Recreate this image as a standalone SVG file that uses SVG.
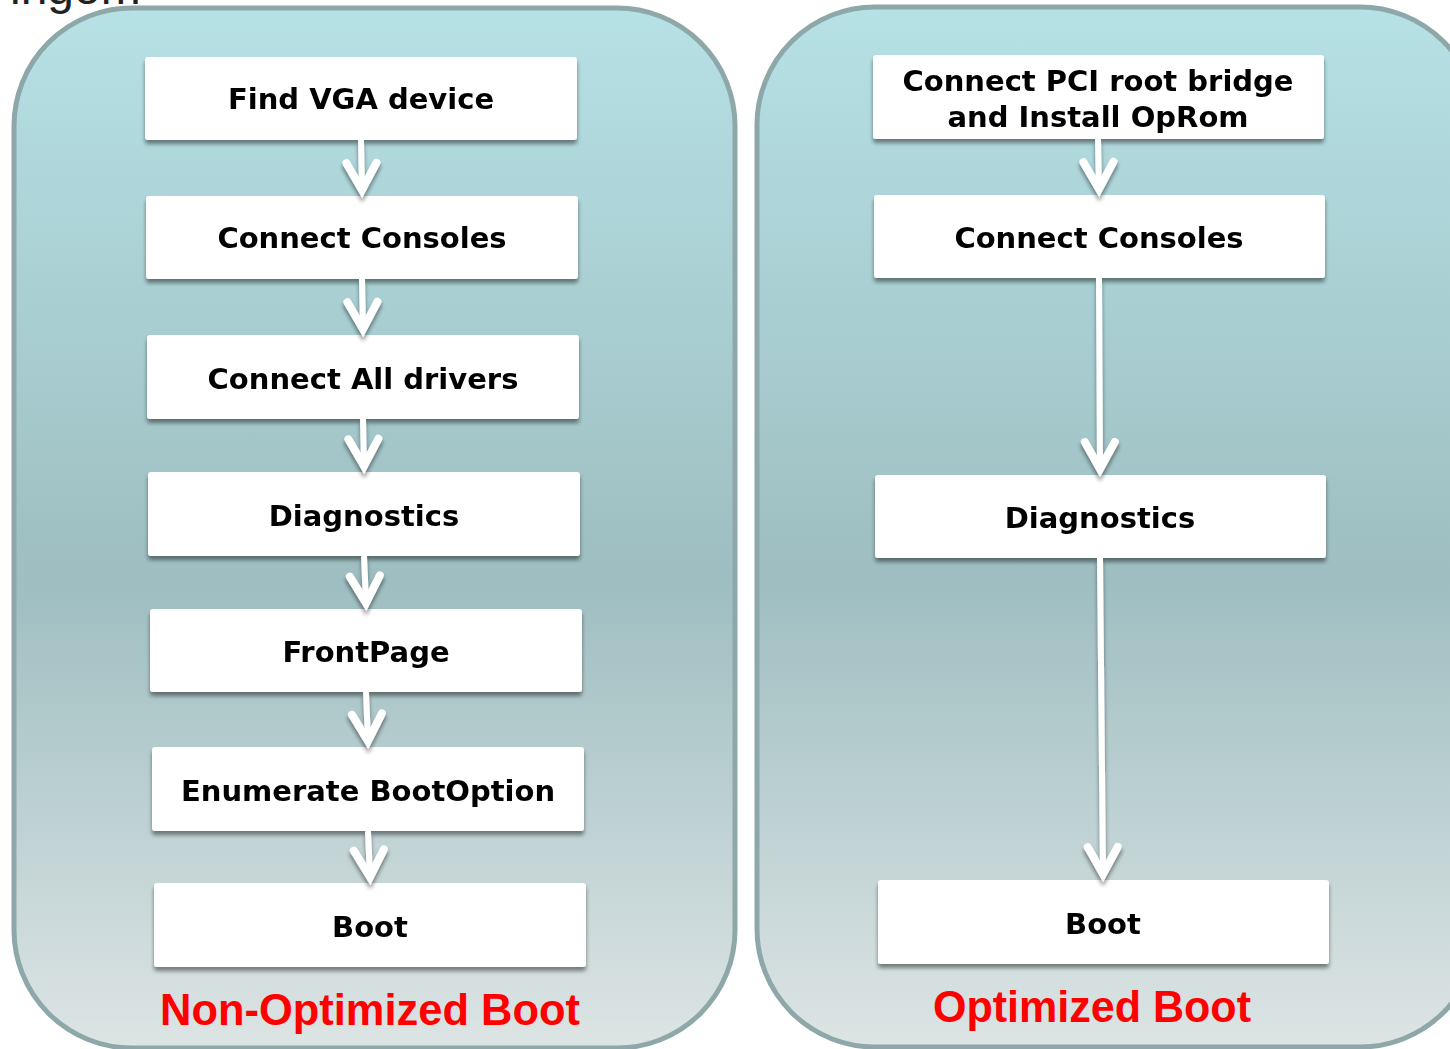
<svg xmlns="http://www.w3.org/2000/svg" width="1450" height="1049" viewBox="0 0 1450 1049">
  <defs>
    <linearGradient id="panelFill" x1="0" y1="0" x2="0" y2="1">
      <stop offset="0" stop-color="#b6e1e5"/>
      <stop offset="0.55" stop-color="#9ebec1"/>
      <stop offset="1" stop-color="#dde4e4"/>
    </linearGradient>
    <filter id="shadow" x="-5%" y="-20%" width="110%" height="150%">
      <feGaussianBlur in="SourceAlpha" stdDeviation="2.2"/>
      <feOffset dx="0" dy="3.5" result="blur"/>
      <feComponentTransfer><feFuncA type="linear" slope="0.45"/></feComponentTransfer>
      <feMerge><feMergeNode/><feMergeNode in="SourceGraphic"/></feMerge>
    </filter>
    <marker id="vhead" markerUnits="userSpaceOnUse" markerWidth="44" markerHeight="44" refX="30" refY="22" orient="auto" overflow="visible">
      <path d="M 3,7 L 30,22 L 3,37" fill="none" stroke="#ffffff" stroke-width="8" stroke-linecap="round" stroke-linejoin="miter"/>
    </marker>
    <style>
      .panel { fill: url(#panelFill); stroke: #8ea8aa; stroke-width: 5; }
      .box { fill: #ffffff; }
      .label { font-family: "DejaVu Sans", Verdana, sans-serif; font-weight: bold; font-size: 29px; fill: #000000; text-anchor: middle; }
      .title { font-family: "Liberation Sans", Arial, sans-serif; font-weight: bold; font-size: 44px; fill: #ff0000; text-anchor: middle; }
      .edge { fill: none; stroke: #ffffff; stroke-width: 6; marker-end: url(#vhead); }
      .heading { font-family: "Liberation Sans", Arial, sans-serif; font-size: 48px; fill: #222222; }
    </style>
  </defs>

  <rect width="1450" height="1049" fill="#ffffff"/>

  <!-- heading text running off the top edge -->
  <text class="heading" x="10" y="4">ingom</text>

  <!-- the two flow panels -->
  <g id="panel-non-optimized">
    <rect class="panel" x="14" y="8" width="721" height="1040" rx="118" ry="118"/>
    <text class="title" x="370" y="1025" textLength="420" lengthAdjust="spacingAndGlyphs">Non-Optimized Boot</text>
  </g>
  <g id="panel-optimized">
    <rect class="panel" x="757" y="7" width="721" height="1040" rx="118" ry="118"/>
    <text class="title" x="1092" y="1022" textLength="318" lengthAdjust="spacingAndGlyphs">Optimized Boot</text>
  </g>

  <!-- non-optimized boot steps -->
  <g filter="url(#shadow)">
    <g id="n-find-vga"><rect class="box" x="145" y="57" width="432" height="83" rx="3"/><text class="label" x="361" y="109">Find VGA device</text></g>
    <g id="n-connect-consoles"><rect class="box" x="146" y="196" width="432" height="83" rx="3"/><text class="label" x="362" y="248">Connect Consoles</text></g>
    <g id="n-connect-all"><rect class="box" x="147" y="335" width="432" height="84" rx="3"/><text class="label" x="363" y="389">Connect All drivers</text></g>
    <g id="n-diagnostics"><rect class="box" x="148" y="472" width="432" height="84" rx="3"/><text class="label" x="364" y="526">Diagnostics</text></g>
    <g id="n-frontpage"><rect class="box" x="150" y="609" width="432" height="83" rx="3"/><text class="label" x="366" y="662">FrontPage</text></g>
    <g id="n-enumerate"><rect class="box" x="152" y="747" width="432" height="84" rx="3"/><text class="label" x="368" y="801">Enumerate BootOption</text></g>
    <g id="n-boot"><rect class="box" x="154" y="883" width="432" height="84" rx="3"/><text class="label" x="370" y="937">Boot</text></g>
  </g>

  <!-- optimized boot steps -->
  <g filter="url(#shadow)">
    <g id="o-connect-pci"><rect class="box" x="873" y="55" width="451" height="84" rx="3"/><text class="label" x="1098" y="91">Connect PCI root bridge</text><text class="label" x="1098" y="127">and Install OpRom</text></g>
    <g id="o-connect-consoles"><rect class="box" x="874" y="195" width="451" height="83" rx="3"/><text class="label" x="1099" y="248">Connect Consoles</text></g>
    <g id="o-diagnostics"><rect class="box" x="875" y="475" width="451" height="83" rx="3"/><text class="label" x="1100" y="528">Diagnostics</text></g>
    <g id="o-boot"><rect class="box" x="878" y="880" width="451" height="84" rx="3"/><text class="label" x="1103" y="934">Boot</text></g>
  </g>

  <!-- connectors -->
  <g id="connectors" filter="url(#shadow)">
    <line class="edge" x1="361" y1="140" x2="362" y2="190"/>
    <line class="edge" x1="362" y1="279" x2="363" y2="329"/>
    <line class="edge" x1="363" y1="419" x2="364" y2="466"/>
    <line class="edge" x1="364" y1="556" x2="366" y2="603"/>
    <line class="edge" x1="366" y1="692" x2="368" y2="741"/>
    <line class="edge" x1="368" y1="831" x2="370" y2="877"/>
    <line class="edge" x1="1098" y1="139" x2="1099" y2="189"/>
    <line class="edge" x1="1099" y1="278" x2="1100" y2="469"/>
    <line class="edge" x1="1100" y1="558" x2="1103" y2="874"/>
  </g>
</svg>
